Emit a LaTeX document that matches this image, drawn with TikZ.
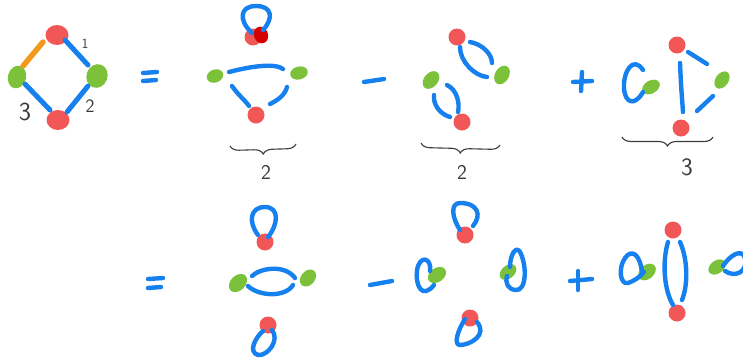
\documentclass[tikz,border=0pt]{standalone}
\usetikzlibrary{shapes.geometric,decorations.pathreplacing}
\definecolor{pen}{HTML}{1580EE}
\definecolor{rdot}{HTML}{F25757}
\definecolor{gdot}{HTML}{7CC13A}
\definecolor{odot}{HTML}{F39A1E}
\definecolor{dred}{HTML}{D40000}
\definecolor{ink}{HTML}{3A3A3A}
\tikzset{
  bl/.style={draw=pen, line width=4.4pt, line cap=round, line join=round},
  orl/.style={draw=odot, line width=5.5pt, line cap=round},
  rd/.style={ellipse, fill=rdot, draw=none, inner sep=0pt, minimum width=#1, minimum height=#1},
  rd/.default=17pt,
  gd/.style={ellipse, fill=gdot, draw=none, inner sep=0pt, minimum width=19pt, minimum height=13pt, rotate=#1},
  gd/.default=40,
  lab/.style={text=ink, font=\sffamily\fontsize{#1}{#1}\selectfont, inner sep=0pt},
  lab/.default=21,
  brc/.style={draw=ink, line width=1.1pt, decorate, decoration={brace, mirror, amplitude=9pt}}
}
\begin{document}
\begin{tikzpicture}[x=1pt, y=-1pt]
\useasboundingbox (0,0) rectangle (743,360);
\clip (0,0) rectangle (743,360);
% ---------- first square ----------
\node[rd, minimum width=23pt, minimum height=20pt] (sT) at (57,35) {};
\node[rd, minimum width=23pt, minimum height=20pt] (sB) at (58,120) {};
\node[gd=75, minimum width=23pt, minimum height=18pt] (sL) at (17,77) {};
\node[gd=70, minimum width=24pt, minimum height=21pt] (sR) at (97,76) {};
\draw[orl] (43,42) -- (23,66);
\draw[bl, line width=5pt] (65,40) -- (88,65);
\draw[bl, line width=5pt] (25,84) -- (50,110);
\draw[bl, line width=5pt] (88,86) -- (67,112);
\node[lab=14] (l1) at (85,44) {1};
\node[lab=19] (l2) at (90,106) {2};
\node[lab=26] (l3) at (25,112) {3};
% = sign
\draw[bl] (143,73) -- (157,72);
\draw[bl] (143,81) -- (156,80);
% ---------- row 1, term 1 ----------
\node[rd] (a0) at (253,37) {};
\node[ellipse, fill=dred, inner sep=0pt, minimum width=14pt, minimum height=17pt, rotate=20] (a0d) at (261,35) {};
\draw[bl] (252,33) .. controls (238,20) and (240,6) .. (256,6) .. controls (272,6) and (274,18) .. (263,30);
\node[gd=20, minimum width=17pt, minimum height=13pt] (aL) at (215,76) {};
\node[gd=15, minimum width=18pt, minimum height=13pt] (aR) at (299,73) {};
\node[rd] (aB) at (256,115) {};
\draw[bl] (229,72) .. controls (252,66) and (275,63) .. (283,69);
\draw[bl] (232,86) .. controls (238,95) and (244,99) .. (249,106);
\draw[bl] (287,87) .. controls (285,95) and (278,100) .. (270,104);
\draw[brc] (230,146) -- (296,144);
\node[lab] (b1) at (266,172) {2};
% minus
\draw[bl] (364,82) -- (384,79);
% ---------- row 1, term 2 ----------
\node[rd] (bT) at (457,37) {};
\node[gd=60, minimum width=20pt, minimum height=14pt] (bR) at (502,75) {};
\node[gd=50, minimum width=20pt, minimum height=14pt] (bL) at (431,80) {};
\node[rd] (bB) at (462,122) {};
\draw[bl] (470,42) .. controls (482,44) and (492,54) .. (492,63);
\draw[bl] (460,47) .. controls (460,62) and (475,76) .. (487,77);
\draw[bl] (447,85) .. controls (457,90) and (460,103) .. (458,112);
\draw[bl] (434,95) .. controls (433,105) and (440,114) .. (450,117);
\draw[brc] (421,143) -- (500,145);
\node[lab] (b2) at (462,172) {2};
% plus
\draw[bl] (573,82) -- (592,81);
\draw[bl] (582,72) -- (581,91);
% ---------- row 1, term 3 ----------
\node[gd=30] (cG) at (651,87) {};
\draw[bl] (643,70) .. controls (633,55) and (623,72) .. (624,88) .. controls (625,104) and (635,106) .. (643,92);
\node[rd] (cT) at (677,45) {};
\node[gd=55] (cR) at (722,80) {};
\node[rd] (cB) at (681,128) {};
\draw[bl] (680,63) .. controls (681,85) .. (683,112);
\draw[bl] (688,52) -- (707,64);
\draw[bl] (713,96) -- (697,111);
\draw[brc] (622,137) -- (713,137);
\node[lab=25] (b3) at (687,167) {3};
% ---------- row 2 ----------
\draw[bl] (148,279) -- (163,278);
\draw[bl] (148,288) -- (161,287);
% term 1
\node[rd] (dT) at (265,242) {};
\node[rd] (dB) at (268,325) {};
\node[gd=45, minimum width=21pt, minimum height=15pt] (dL) at (238,283) {};
\node[gd=50, minimum width=19pt, minimum height=14pt] (dR) at (308,278) {};
\draw[bl] (258,235) .. controls (248,222) and (250,207) .. (265,207) .. controls (280,207) and (278,225) .. (268,237);
\draw[bl] (252,276) .. controls (260,268) and (285,264) .. (295,278);
\draw[bl] (248,286) .. controls (258,296) and (285,298) .. (293,285);
\draw[bl] (263,331) .. controls (255,338) and (248,352) .. (258,355) .. controls (268,356) and (280,340) .. (272,330);
% minus
\draw[bl] (370,285) -- (392,281);
% term 2
\node[rd] (eT) at (465,235) {};
\node[gd=35, minimum width=20pt, minimum height=14pt] (eL) at (437,275) {};
\node[gd=40] (eR) at (508,272) {};
\node[rd] (eB) at (470,318) {};
\draw[bl] (460,230) .. controls (452,218) and (450,203) .. (460,203) .. controls (478,203) and (482,215) .. (473,226);
\draw[bl] (430,271) .. controls (432,258) and (420,254) .. (417,270) .. controls (415,285) and (422,300) .. (434,285);
\draw[bl] (510,267) .. controls (510,255) and (516,245) .. (520,252) .. controls (527,265) and (527,292) .. (515,290) .. controls (508,289) and (505,283) .. (507,276);
\draw[bl] (465,319) .. controls (458,330) and (453,345) .. (460,345) .. controls (470,345) and (488,335) .. (477,322);
% plus
\draw[bl] (570,281) -- (592,279);
\draw[bl] (578,271) -- (578,290);
% term 3
\node[gd=40, minimum width=20pt, minimum height=14pt] (fG) at (647,272) {};
\draw[bl] (642,272) .. controls (640,255) and (632,248) .. (625,258) .. controls (618,268) and (620,285) .. (628,283) .. controls (634,281) and (640,277) .. (644,272);
\node[rd] (fT) at (673,230) {};
\node[rd] (fB) at (677,313) {};
\draw[bl] (668,242) .. controls (662,262) and (664,290) .. (673,305);
\draw[bl] (680,242) .. controls (688,260) and (688,285) .. (682,300);
\node[gd=35] (fR) at (717,267) {};
\draw[bl] (723,266) .. controls (730,255) and (742,248) .. (745,258) .. controls (748,272) and (735,278) .. (725,271);
\end{tikzpicture}
\end{document}
